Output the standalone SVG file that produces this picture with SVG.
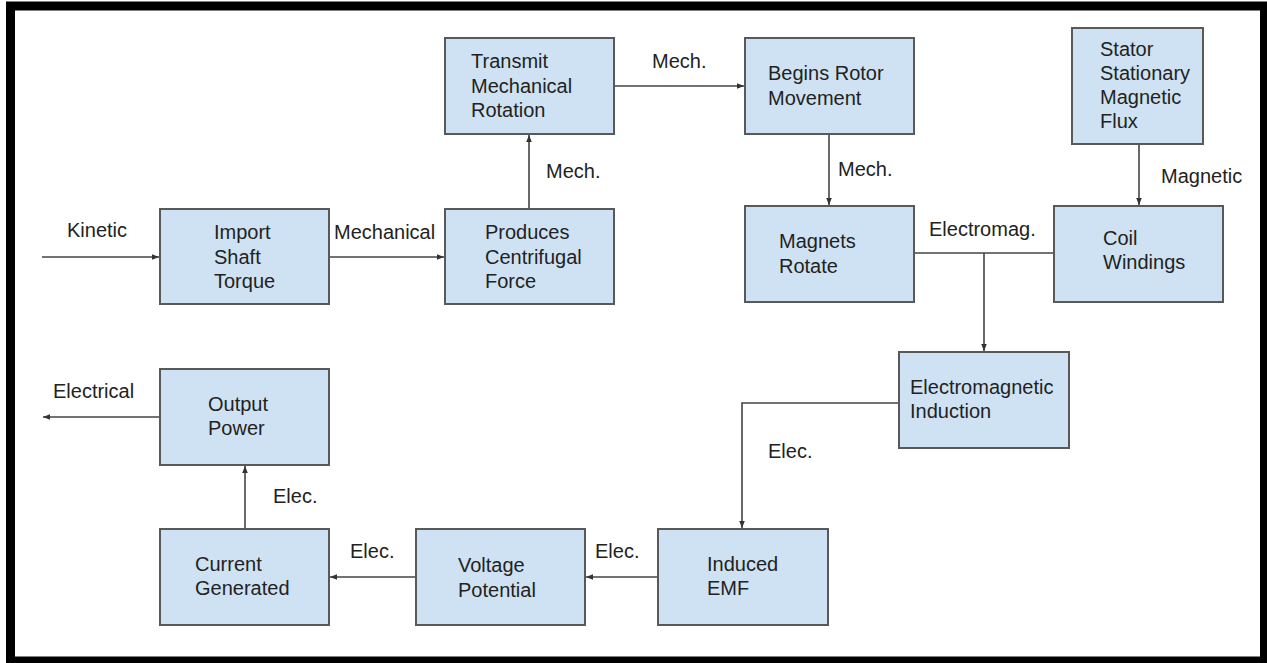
<svg xmlns="http://www.w3.org/2000/svg" width="1267" height="663" viewBox="0 0 1267 663">
<defs>
<style>
.box{fill:#cfe2f3;stroke:#595959;stroke-width:2}
.t{font-family:"Liberation Sans",Arial,sans-serif;font-size:20px;fill:#222}
.c{fill:none;stroke:#444;stroke-width:1.6}
</style>
<marker id="ah" viewBox="0 0 10 10" refX="10" refY="5" markerWidth="7" markerHeight="7" markerUnits="userSpaceOnUse" orient="auto">
<path d="M0,1 L10,5 L0,9 z" fill="#333"/>
</marker>
</defs>
<rect x="0" y="0" width="1267" height="663" fill="#fff"/>
<rect x="10.5" y="6" width="1254" height="655" fill="none" stroke="#000" stroke-width="9"/>

<g id="connectors">
<path class="c" d="M42,257 H159" marker-end="url(#ah)"/>
<path class="c" d="M329,257 H444" marker-end="url(#ah)"/>
<path class="c" d="M529,209 V135" marker-end="url(#ah)"/>
<path class="c" d="M614,86 H744" marker-end="url(#ah)"/>
<path class="c" d="M829,134 V205" marker-end="url(#ah)"/>
<path class="c" d="M1139,144 V205" marker-end="url(#ah)"/>
<path class="c" d="M914,253 H1054"/>
<path class="c" d="M984,253 V351" marker-end="url(#ah)"/>
<path class="c" d="M899,403 H742 V528" marker-end="url(#ah)"/>
<path class="c" d="M658,577 H586" marker-end="url(#ah)"/>
<path class="c" d="M416,577 H330" marker-end="url(#ah)"/>
<path class="c" d="M245,529 V466" marker-end="url(#ah)"/>
<path class="c" d="M160,417 H43" marker-end="url(#ah)"/>
<text class="t" x="67" y="237">Kinetic</text>
<text class="t" x="334" y="239">Mechanical</text>
<text class="t" x="546" y="178">Mech.</text>
<text class="t" x="652" y="68">Mech.</text>
<text class="t" x="838" y="176">Mech.</text>
<text class="t" x="1161" y="183">Magnetic</text>
<text class="t" x="929" y="236">Electromag.</text>
<text class="t" x="768" y="458">Elec.</text>
<text class="t" x="595" y="558">Elec.</text>
<text class="t" x="350" y="558">Elec.</text>
<text class="t" x="273" y="503">Elec.</text>
<text class="t" x="53" y="398">Electrical</text>
</g>

<g id="import">
<rect class="box" x="160" y="209" width="169" height="95"/>
<text class="t" x="214" y="239">Import</text>
<text class="t" x="214" y="264">Shaft</text>
<text class="t" x="214" y="288">Torque</text>
</g>
<g id="produces">
<rect class="box" x="445" y="209" width="169" height="95"/>
<text class="t" x="485" y="239">Produces</text>
<text class="t" x="485" y="264">Centrifugal</text>
<text class="t" x="485" y="288">Force</text>
</g>
<g id="transmit">
<rect class="box" x="445" y="38" width="169" height="96"/>
<text class="t" x="471" y="68">Transmit</text>
<text class="t" x="471" y="93">Mechanical</text>
<text class="t" x="471" y="117">Rotation</text>
</g>
<g id="begins">
<rect class="box" x="745" y="38" width="169" height="96"/>
<text class="t" x="768" y="80">Begins Rotor</text>
<text class="t" x="768" y="105">Movement</text>
</g>
<g id="magnets">
<rect class="box" x="745" y="206" width="169" height="96"/>
<text class="t" x="779" y="248">Magnets</text>
<text class="t" x="779" y="273">Rotate</text>
</g>
<g id="stator">
<rect class="box" x="1072" y="28" width="131" height="116"/>
<text class="t" x="1100" y="56">Stator</text>
<text class="t" x="1100" y="80">Stationary</text>
<text class="t" x="1100" y="104">Magnetic</text>
<text class="t" x="1100" y="128">Flux</text>
</g>
<g id="coil">
<rect class="box" x="1054" y="206" width="169" height="96"/>
<text class="t" x="1103" y="245">Coil</text>
<text class="t" x="1103" y="269">Windings</text>
</g>
<g id="induction">
<rect class="box" x="899" y="352" width="170" height="96"/>
<text class="t" x="910" y="394">Electromagnetic</text>
<text class="t" x="910" y="418">Induction</text>
</g>
<g id="emf">
<rect class="box" x="658" y="529" width="170" height="96"/>
<text class="t" x="707" y="571">Induced</text>
<text class="t" x="707" y="595">EMF</text>
</g>
<g id="voltage">
<rect class="box" x="416" y="529" width="169" height="96"/>
<text class="t" x="458" y="572">Voltage</text>
<text class="t" x="458" y="597">Potential</text>
</g>
<g id="current">
<rect class="box" x="160" y="529" width="169" height="96"/>
<text class="t" x="195" y="571">Current</text>
<text class="t" x="195" y="595">Generated</text>
</g>
<g id="output">
<rect class="box" x="160" y="369" width="169" height="96"/>
<text class="t" x="208" y="411">Output</text>
<text class="t" x="208" y="435">Power</text>
</g>
</svg>
